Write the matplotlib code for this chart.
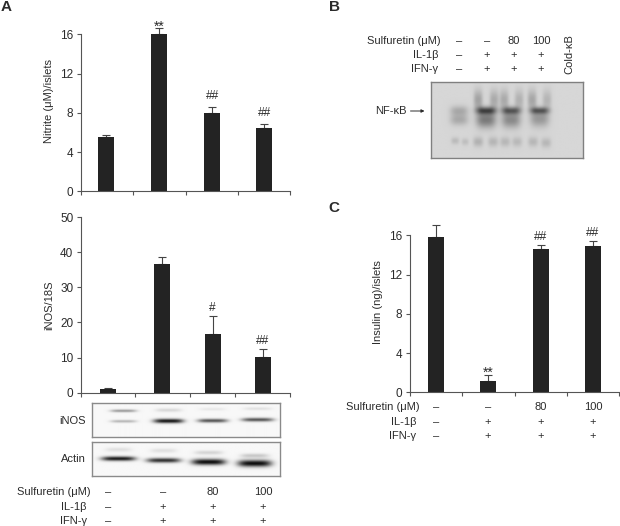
import numpy as np
import matplotlib
matplotlib.use("Agg")
import matplotlib.pyplot as plt

plt.rcParams['font.family'] = ['Liberation Sans', 'DejaVu Sans']

W, H = 620, 526
TEXT = '#2b2b2b'
AXIS = '#555555'
BAR = '#232323'
FS = 8.0

# --- data ---
nitrite = [5.5, 16.0, 8.0, 6.45]
nitrite_err = [0.25, 0.6, 0.6, 0.45]
nitrite_marks = ['', '**', '##', '##']
inos = [1.0, 36.6, 16.6, 10.3]
inos_err = [0.2, 1.9, 5.1, 2.0]
inos_marks = ['', '', '#', '##']
insulin = [15.8, 1.2, 14.6, 14.9]
insulin_err = [1.3, 0.6, 0.4, 0.5]
insulin_marks = ['', '**', '##', '##']

row_names = ['Sulfuretin (μM)', 'IL-1β', 'IFN-γ']
sulf_row = ['–', '–', '80', '100']
il_row = ['–', '+', '+', '+']
ifn_row = ['–', '+', '+', '+']

# band density estimates: (centre x, half width, y, thickness, density), image px
inos_bands = [(123, 13, 410.7, 1.4, .42), (123, 13, 421.3, 1.4, .30),
              (168, 15, 421, 2.2, 1.0), (168, 13, 410, 1.8, .14),
              (212, 15, 420.7, 1.9, .72), (212, 13, 409, 1.5, .07),
              (257, 16, 419.7, 1.9, .72), (257, 14, 408.5, 1.5, .10)]
actin_bands = [(118, 17, 459, 2.2, .95), (118, 13, 450, 2.2, .10),
               (163, 17, 460.7, 2.3, .85), (163, 13, 451, 2.2, .10),
               (208, 17, 462.3, 3.0, 1.0), (208, 14, 453, 2.0, .15),
               (254, 17, 463.7, 3.4, 1.0), (254, 14, 456, 2.0, .20)]
gel_bands = [(459, 9, 111, 5, .24), (459, 9, 120, 5.5, .24),
             (455, 4, 141, 3.5, .15), (465, 3.5, 142, 3.5, .13),
             (486, 10, 110.7, 3.8, .70), (486, 10, 120, 8, .50),
             (478, 4.5, 100, 10, .28), (494, 4.5, 100, 10, .24),
             (478, 5, 142, 5, .20), (493, 5, 142, 5, .18),
             (511, 9.5, 110.7, 3.8, .60), (511, 9.5, 120, 8, .42),
             (504, 4.5, 100, 10, .24), (519, 4.5, 100, 10, .20),
             (505, 5, 142, 5, .17), (517, 5, 142, 5, .16),
             (539.5, 9.5, 110.7, 3.5, .60), (539.5, 9.5, 119, 8, .34),
             (532, 4.5, 100, 10, .26), (547, 4.5, 100, 10, .18),
             (533, 5, 142, 5, .17), (546, 5, 143, 5, .17)]

fig = plt.figure(figsize=(W / 100, H / 100), dpi=100, facecolor='white')


def make_axes(l, r, t, b, **kw):
    return fig.add_axes([l / W, 1 - b / H, (r - l) / W, (b - t) / H], **kw)


def label(x, y, s, ha='center', va='center', fs=FS, **kw):
    fig.text(x / W, 1 - y / H, s, ha=ha, va=va, fontsize=fs, color=TEXT, **kw)


def bar_panel(box, ymax, yticks, values, errs, marks, centers, xticks, ylabel, ylabel_xy, mark_gap):
    ax = make_axes(*box)
    ax.patch.set_alpha(0)
    ax.bar(centers, values, width=0.31, color=BAR, zorder=2)
    ax.errorbar(centers, values, yerr=[[0] * 4, errs], fmt='none', ecolor='#444444',
                elinewidth=0.8, capsize=2.6, capthick=0.8, zorder=1, clip_on=False)
    for c, v, e, m in zip(centers, values, errs, marks):
        if m:
            star = m.startswith('*')
            ax.annotate(m, (c, v + e), xytext=(0, 2 if star else mark_gap),
                        textcoords='offset pixels', annotation_clip=False,
                        ha='center', va='center', fontsize=10 if star else FS + 0.6,
                        color=TEXT)
    ax.set_xlim(0, 4)
    ax.set_ylim(0, ymax)
    ax.set_yticks(yticks)
    ax.set_xticks(xticks)
    ax.set_xticklabels([])
    ax.tick_params(axis='both', length=3, width=0.8, color=AXIS, labelsize=FS + 0.5,
                   labelcolor=TEXT, pad=2.5)
    for s in ('top', 'right'):
        ax.spines[s].set_visible(False)
    for s in ('left', 'bottom'):
        ax.spines[s].set_color(AXIS)
        ax.spines[s].set_linewidth(0.8)
    label(ylabel_xy[0], ylabel_xy[1], ylabel, rotation=90)
    return ax


def blot(box, bands, bg, ink, edge, power=4):
    l, r, t, b = box
    ax = make_axes(l, r, t, b)
    xs = np.linspace(l, r, int((r - l) * 2))
    ys = np.linspace(t, b, int((b - t) * 2))
    X, Y = np.meshgrid(xs, ys)
    D = np.zeros_like(X)
    for cx, hw, cy, th, d in bands:
        D += d * np.exp(-np.abs((X - cx) / hw) ** power) * np.exp(-((Y - cy) / th) ** 2)
    D = np.clip(D, 0, 1)
    img = bg + (ink - bg) * D
    ax.imshow(img, cmap='gray', vmin=0, vmax=1, aspect='auto', extent=[l, r, b, t],
              interpolation='bilinear')
    ax.set_xticks([])
    ax.set_yticks([])
    for s in ax.spines.values():
        s.set_color(edge)
        s.set_linewidth(1.0)


def rows(columns, ys, right_main, right_other):
    for i, (vals, y) in enumerate(zip([sulf_row, il_row, ifn_row], ys)):
        label(right_main if i == 0 else right_other, y, row_names[i], ha='right')
        for x, v in zip(columns, vals):
            label(x, y, v)


# --- panel A ---
bar_panel((81, 290, 34.3, 191.3), 16, [0, 4, 8, 12, 16], nitrite, nitrite_err, nitrite_marks,
          [0.48, 1.5, 2.51, 3.51], [0, 1, 2, 3, 4], 'Nitrite (μM)/islets', (49, 101), 11)
bar_panel((81, 290, 217, 392.7), 50, [0, 10, 20, 30, 40, 50], inos, inos_err, inos_marks,
          [0.511, 1.556, 2.52, 3.483], [0, 1.033, 2.086, 2.947, 4], 'iNOS/18S', (49, 305), 8)
blot((91.7, 280, 403, 437), inos_bands, 0.97, 0.08, '#8a8a8a')
blot((91.7, 280, 441.7, 476), actin_bands, 0.97, 0.05, '#8a8a8a')
label(72, 421, 'iNOS')
label(73, 459.5, 'Actin')
rows([108, 163, 213, 263], [491.7, 506.7, 521], 90.7, 87)

# --- panel B ---
blot((431, 582.7, 82.3, 158), gel_bands, 0.84, 0.12, '#808080', power=3)
rows([459, 487, 514, 541], [40.7, 55, 69], 441, 438)
label(569.5, 74, 'Cold-κB', rotation=90, va='bottom')
label(407, 111, 'NF-κB', ha='right')
fig.add_artist(matplotlib.patches.FancyArrowPatch(
    (410.5 / W, 1 - 111 / H), (424.5 / W, 1 - 111 / H), transform=fig.transFigure,
    arrowstyle='-|>', mutation_scale=4.5, lw=0.7, color=TEXT, shrinkA=0, shrinkB=0))

# --- panel C ---
bar_panel((410, 619, 235.3, 392.3), 16, [0, 4, 8, 12, 16], insulin, insulin_err, insulin_marks,
          [0.5, 1.5, 2.5, 3.5], [0, 1, 2, 3, 4], 'Insulin (ng)/islets', (378, 302), 8)
rows([436, 488, 541, 593], [407.3, 421.7, 436], 420, 416)

# --- panel letters ---
label(1, 7, 'A', ha='left', fs=11, fontweight='bold')
label(329, 7, 'B', ha='left', fs=11, fontweight='bold')
label(328, 208, 'C', ha='left', fs=11, fontweight='bold')

fig.savefig('out.png', dpi=100)
